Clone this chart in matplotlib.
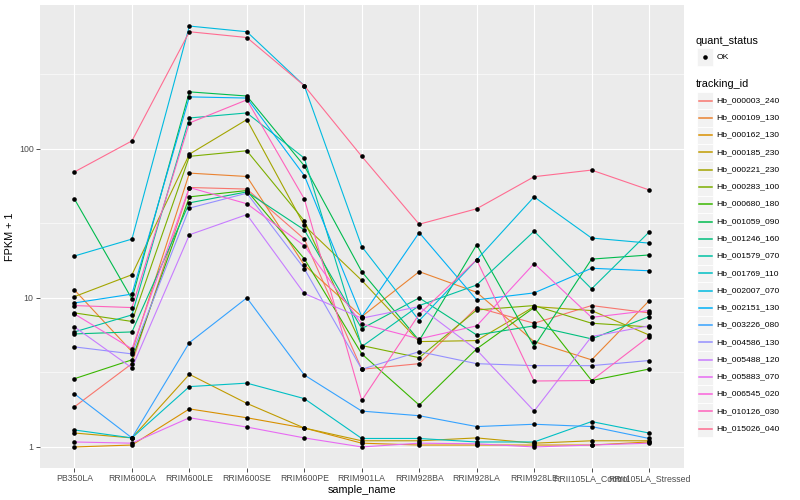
import numpy as np
import matplotlib
matplotlib.use("Agg")
import matplotlib.pyplot as plt
from matplotlib.lines import Line2D
from matplotlib.patches import Rectangle
from matplotlib.ticker import FixedLocator, NullFormatter

plt.rcParams['font.family'] = ['Liberation Sans', 'DejaVu Sans']

samples = ["PB350LA", "RRIM600LA", "RRIM600LE", "RRIM600SE", "RRIM600PE",
           "RRIM901LA", "RRIM928BA", "RRIM928LA", "RRIM928LE",
           "RRII105LA_Control", "RRII105LA_Stressed"]

tracking_ids = ["Hb_000003_240", "Hb_000109_130", "Hb_000162_130", "Hb_000185_230",
                "Hb_000221_230", "Hb_000283_100", "Hb_000680_180", "Hb_001059_090",
                "Hb_001246_160", "Hb_001579_070", "Hb_001769_110", "Hb_002007_070",
                "Hb_002151_130", "Hb_003226_080", "Hb_004586_130", "Hb_005488_120",
                "Hb_005883_070", "Hb_006545_020", "Hb_010126_030", "Hb_015026_040"]

# ggplot default hue palette for 20 levels
colors = ["#F8766D", "#EA8331", "#D89000", "#C09B00", "#A3A500", "#7CAE00", "#39B600",
          "#00BB4E", "#00BF7D", "#00C1A3", "#00BFC4", "#00BAE0", "#00B0F6", "#35A2FF",
          "#9590FF", "#C77CFF", "#E76BF3", "#FA62DB", "#FF62BC", "#FF6C91"]

quant_status = ["OK"]

# FPKM + 1, one list per gene, in sample order
hb_000003_240 = [1.86, 3.62, 55, 53.7, 24.8, 3.32, 3.62, 8.61, 6.76, 8.88, 7.93]
hb_000109_130 = [11.3, 4.36, 68.7, 65.2, 16.6, 7.49, 15.0, 10.9, 5.09, 3.84, 9.55]
hb_000162_130 = [1.0, 1.03, 1.80, 1.57, 1.34, 1.06, 1.03, 1.03, 1.03, 1.03, 1.08]
hb_000185_230 = [1.24, 1.15, 3.07, 1.96, 1.34, 1.10, 1.10, 1.15, 1.06, 1.10, 1.10]
hb_000221_230 = [10.2, 14.3, 92, 157, 30.6, 13.1, 5.09, 5.17, 8.74, 8.22, 5.64]
hb_000283_100 = [7.93, 6.95, 89, 97, 32.9, 4.79, 3.97, 8.3, 8.88, 6.76, 6.39]
hb_000680_180 = [2.87, 3.84, 47.6, 52.5, 18.3, 4.21, 1.91, 4.55, 8.61, 2.79, 3.33]
hb_001059_090 = [46, 9.84, 241, 226, 76.9, 15.0, 5.17, 22.7, 4.71, 18.2, 19.4]
hb_001246_160 = [5.73, 5.91, 43.4, 51.4, 28.6, 6.22, 10.0, 5.64, 6.49, 5.31, 7.49]
hb_001579_070 = [5.91, 7.69, 161, 174, 86.6, 4.71, 8.88, 12.2, 28, 11.5, 27.6]
hb_001769_110 = [1.30, 1.15, 2.54, 2.68, 2.11, 1.14, 1.14, 1.08, 1.08, 1.48, 1.24]
hb_002007_070 = [19.1, 24.8, 666, 610, 265, 22.1, 7.04, 18, 47.6, 25.2, 23.3]
hb_002151_130 = [9.25, 10.6, 223, 219, 66.2, 7.49, 27.4, 9.7, 10.8, 15.8, 15.2]
hb_003226_080 = [2.27, 1.15, 5.01, 10.0, 3.04, 1.74, 1.62, 1.37, 1.42, 1.37, 1.14]
hb_004586_130 = [4.69, 4.21, 40, 50.4, 15.7, 3.32, 4.36, 3.62, 3.51, 3.51, 3.80]
hb_005488_120 = [6.39, 3.39, 26.5, 36.2, 10.7, 7.31, 8.74, 4.48, 1.74, 5.5, 6.49]
hb_005883_070 = [1.08, 1.06, 1.57, 1.36, 1.15, 1.0, 1.06, 1.05, 1.0, 1.03, 1.06]
hb_006545_020 = [7.8, 4.55, 55, 42.8, 22.4, 6.69, 5.31, 6.49, 17, 7.4, 8.22]
hb_010126_030 = [8.88, 8.61, 149, 213, 46.1, 2.05, 7.78, 18, 2.77, 2.79, 5.5]
hb_015026_040 = [70, 113, 610, 558, 265, 89, 31.2, 39.6, 65, 72, 53]

series = [hb_000003_240, hb_000109_130, hb_000162_130, hb_000185_230, hb_000221_230,
          hb_000283_100, hb_000680_180, hb_001059_090, hb_001246_160, hb_001579_070,
          hb_001769_110, hb_002007_070, hb_002151_130, hb_003226_080, hb_004586_130,
          hb_005488_120, hb_005883_070, hb_006545_020, hb_010126_030, hb_015026_040]

W, H = 800, 500
fig = plt.figure(figsize=(8, 5), dpi=100)
ax = fig.add_axes([40 / W, 1 - 468 / H, (683.5 - 40) / W, (468 - 5) / H])
ax.set_facecolor('#EBEBEB')
for s in ax.spines.values():
    s.set_visible(False)

x = np.arange(len(samples))
for vals, c in zip(series, colors):
    ax.plot(x, vals, color=c, lw=0.8, zorder=2, solid_capstyle='butt')
for vals in series:
    ax.plot(x, vals, 'o', color='black', ms=3.3, mew=0, zorder=3)

ax.set_yscale('log')
allv = np.log10(np.concatenate([np.array(v, float) for v in series]))
lo, hi = allv.min(), allv.max()
pad = 0.05 * (hi - lo)
ax.set_ylim(10 ** (lo - pad), 10 ** (hi + pad))
ax.set_xlim(-0.6, len(samples) - 0.4)

ax.yaxis.set_major_locator(FixedLocator([1, 10, 100]))
ax.set_yticklabels(["1", "10", "100"])
ax.yaxis.set_minor_locator(FixedLocator([10 ** 0.5, 10 ** 1.5, 10 ** 2.5]))
ax.yaxis.set_minor_formatter(NullFormatter())
ax.set_xticks(x)
ax.set_xticklabels(samples)

ax.grid(which='major', color='white', lw=0.85, zorder=0)
ax.grid(which='minor', axis='y', color='white', lw=0.4, zorder=0)
ax.set_axisbelow(True)
ax.tick_params(which='major', length=2.6, width=0.6, color='#333333',
               labelcolor='#4D4D4D', labelsize=6.3, pad=2)
ax.tick_params(which='minor', length=0)

ax.set_xlabel("sample_name", fontsize=7.8, color='black', labelpad=1.5)
ax.set_ylabel("FPKM + 1", fontsize=7.8, color='black', labelpad=3)

# legends, laid out in figure pixels
def fx(px):
    return px / W

def fy(py):
    return 1 - py / H

fig.text(fx(696), fy(40.7), "quant_status", fontsize=7.8, va='center', ha='left')
fig.add_artist(Rectangle((fx(697), fy(65.5)), 16 / W, 17.2 / H, transform=fig.transFigure,
                         facecolor='#F2F2F2', edgecolor='white', lw=0.5))
fig.add_artist(Line2D([fx(705)], [fy(57.3)], marker='o', color='black', ms=3.3, mew=0,
                      transform=fig.transFigure))
fig.text(fx(716.5), fy(57.3), quant_status[0], fontsize=6.1, va='center', ha='left')

fig.text(fx(696), fy(84.3), "tracking_id", fontsize=7.8, va='center', ha='left')
step = 17.26
for i, (name, c) in enumerate(zip(tracking_ids, colors)):
    yc = 100.7 + i * step
    fig.add_artist(Rectangle((fx(697), fy(yc + step / 2)), 16 / W, step / H,
                             transform=fig.transFigure, facecolor='#F2F2F2',
                             edgecolor='white', lw=0.6))
    fig.add_artist(Line2D([fx(698.5), fx(711.5)], [fy(yc), fy(yc)], color=c, lw=1.1,
                          transform=fig.transFigure))
    fig.text(fx(716.5), fy(yc), name, fontsize=6.1, va='center', ha='left')

fig.savefig("out.png", dpi=100)
